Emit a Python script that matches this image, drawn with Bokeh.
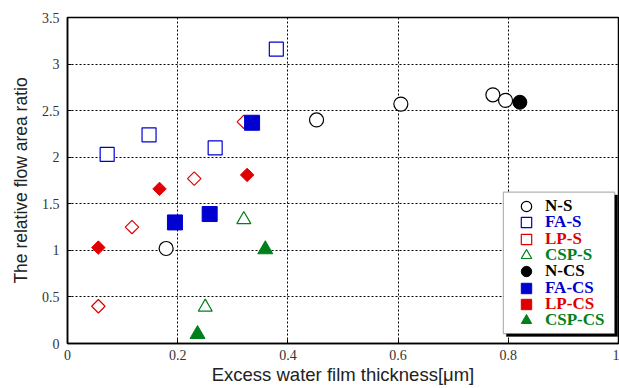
import math
from bokeh.plotting import figure
from bokeh.models import Range1d, Legend, LegendItem, BoxAnnotation, FixedTicker, CustomJSTickFormatter
from bokeh.embed import file_html
from bokeh.resources import INLINE

# ---- data ----
ns_x = [0.179, 0.452, 0.605, 0.772, 0.795]
ns_y = [1.02, 2.40, 2.57, 2.67, 2.61]
fas_x = [0.072, 0.148, 0.268, 0.379]
fas_y = [2.03, 2.24, 2.10, 3.16]
lps_x = [0.056, 0.117, 0.230, 0.320]
lps_y = [0.40, 1.25, 1.77, 2.38]
csps_x = [0.250, 0.320]
csps_y = [0.39, 1.33]
ncs_x = [0.821]
ncs_y = [2.59]
facs_x = [0.195, 0.258, 0.335]
facs_y = [1.30, 1.39, 2.37]
lpcs_x = [0.056, 0.167, 0.326]
lpcs_y = [1.03, 1.66, 1.81]
cspcs_x = [0.236, 0.359]
cspcs_y = [0.10, 1.01]

x_ticks = [0, 0.2, 0.4, 0.6, 0.8, 1.0]
y_ticks = [0, 0.5, 1, 1.5, 2, 2.5, 3, 3.5]

BLUE = "#0000d0"
RED = "#e00000"
GREEN = "#00801a"
SERIF = "Liberation Serif"
SANS = "Liberation Sans"

p = figure(width=619, height=388, output_backend="svg", toolbar_location=None,
           x_range=Range1d(0, 1), y_range=Range1d(0, 3.5),
           min_border_left=67, min_border_right=1, min_border_top=17, min_border_bottom=45)

p.background_fill_color = "white"
p.border_fill_color = "white"
p.outline_line_color = "black"
p.outline_line_width = 1.5

xa = p.xaxis[0]
ya = p.yaxis[0]
for ax in (xa, ya):
    ax.formatter = CustomJSTickFormatter(code="return String(Math.round(tick * 10) / 10);")
    ax.major_label_text_font = SERIF
    ax.major_label_text_font_size = "14px"
    ax.major_label_text_color = "#333333"
    ax.axis_label_text_font = SANS
    ax.axis_label_text_font_style = "normal"
    ax.axis_label_text_color = "#222222"
    ax.axis_line_color = "black"
    ax.axis_line_width = 1.5
    ax.major_tick_in = 4
    ax.major_tick_out = 0
    ax.minor_tick_line_color = None

xa.axis_label_text_font_size = "18.5px"
ya.axis_label_text_font_size = "17.5px"
xa.ticker = FixedTicker(ticks=x_ticks)
ya.ticker = FixedTicker(ticks=y_ticks)
xa.axis_label = "Excess water film thickness[μm]"
ya.axis_label = "The relative flow area ratio"
xa.major_label_standoff = 6
ya.major_label_standoff = 8
xa.axis_label_standoff = 1
ya.axis_label_standoff = 8

for g in (p.xgrid[0], p.ygrid[0]):
    g.grid_line_color = "black"
    g.grid_line_dash = "2 2"
    g.grid_line_width = 1

S = 14
D = 9.5  # side of the rotated square used for diamonds
A = math.pi / 4
r_ns = p.scatter(ns_x, ns_y, marker="circle", size=S, fill_color="white", line_color="black", line_width=1.2)
r_fas = p.scatter(fas_x, fas_y, marker="square", size=S, fill_color="white", line_color=BLUE, line_width=1.2)
r_lps = p.scatter(lps_x, lps_y, marker="square", angle=A, size=D, fill_color="white", line_color=RED, line_width=1.2)
r_csps = p.scatter(csps_x, csps_y, marker="triangle", size=S, fill_color="white", line_color=GREEN, line_width=1.2)
r_ncs = p.scatter(ncs_x, ncs_y, marker="circle", size=S, fill_color="black", line_color="black")
r_facs = p.scatter(facs_x, facs_y, marker="square", size=S + 1, fill_color=BLUE, line_color=BLUE)
r_lpcs = p.scatter(lpcs_x, lpcs_y, marker="square", angle=A, size=D, fill_color=RED, line_color=RED)
r_cspcs = p.scatter(cspcs_x, cspcs_y, marker="triangle", size=S + 1, fill_color=GREEN, line_color=GREEN)

# legend frame with shadow
p.add_layout(BoxAnnotation(left=0.7965, right=0.9985, top=1.595, bottom=0.075,
                           fill_color="black", fill_alpha=1, line_color="black", level="overlay"))
p.add_layout(BoxAnnotation(left=0.791, right=0.993, top=1.625, bottom=0.105,
                           fill_color="white", fill_alpha=1, line_color="black", line_width=1.2, level="overlay"))

labels = ["N-S", "FA-S", "LP-S", "CSP-S", "N-CS", "FA-CS", "LP-CS", "CSP-CS"]
renderers = [r_ns, r_fas, r_lps, r_csps, r_ncs, r_facs, r_lpcs, r_cspcs]
colors = ["black", BLUE, RED, GREEN, "black", BLUE, RED, GREEN]
row_centers = [206, 222, 239, 255, 271, 288, 304, 320]  # screen y of each legend row
frame_bottom = 343
GH = 26
for lab, rr, col, yc in zip(labels, renderers, colors, row_centers):
    lg = Legend(items=[LegendItem(label=lab, renderers=[rr])],
                location=(446, frame_bottom - yc - GH / 2),
                border_line_color=None, background_fill_alpha=0,
                padding=0, margin=0, spacing=0,
                label_text_font=SERIF, label_text_font_style="bold",
                label_text_font_size="17px", label_text_color=col,
                glyph_width=GH, glyph_height=GH, label_height=GH,
                label_standoff=6)
    p.add_layout(lg)

open("out.html", "w").write(file_html(p, INLINE))
